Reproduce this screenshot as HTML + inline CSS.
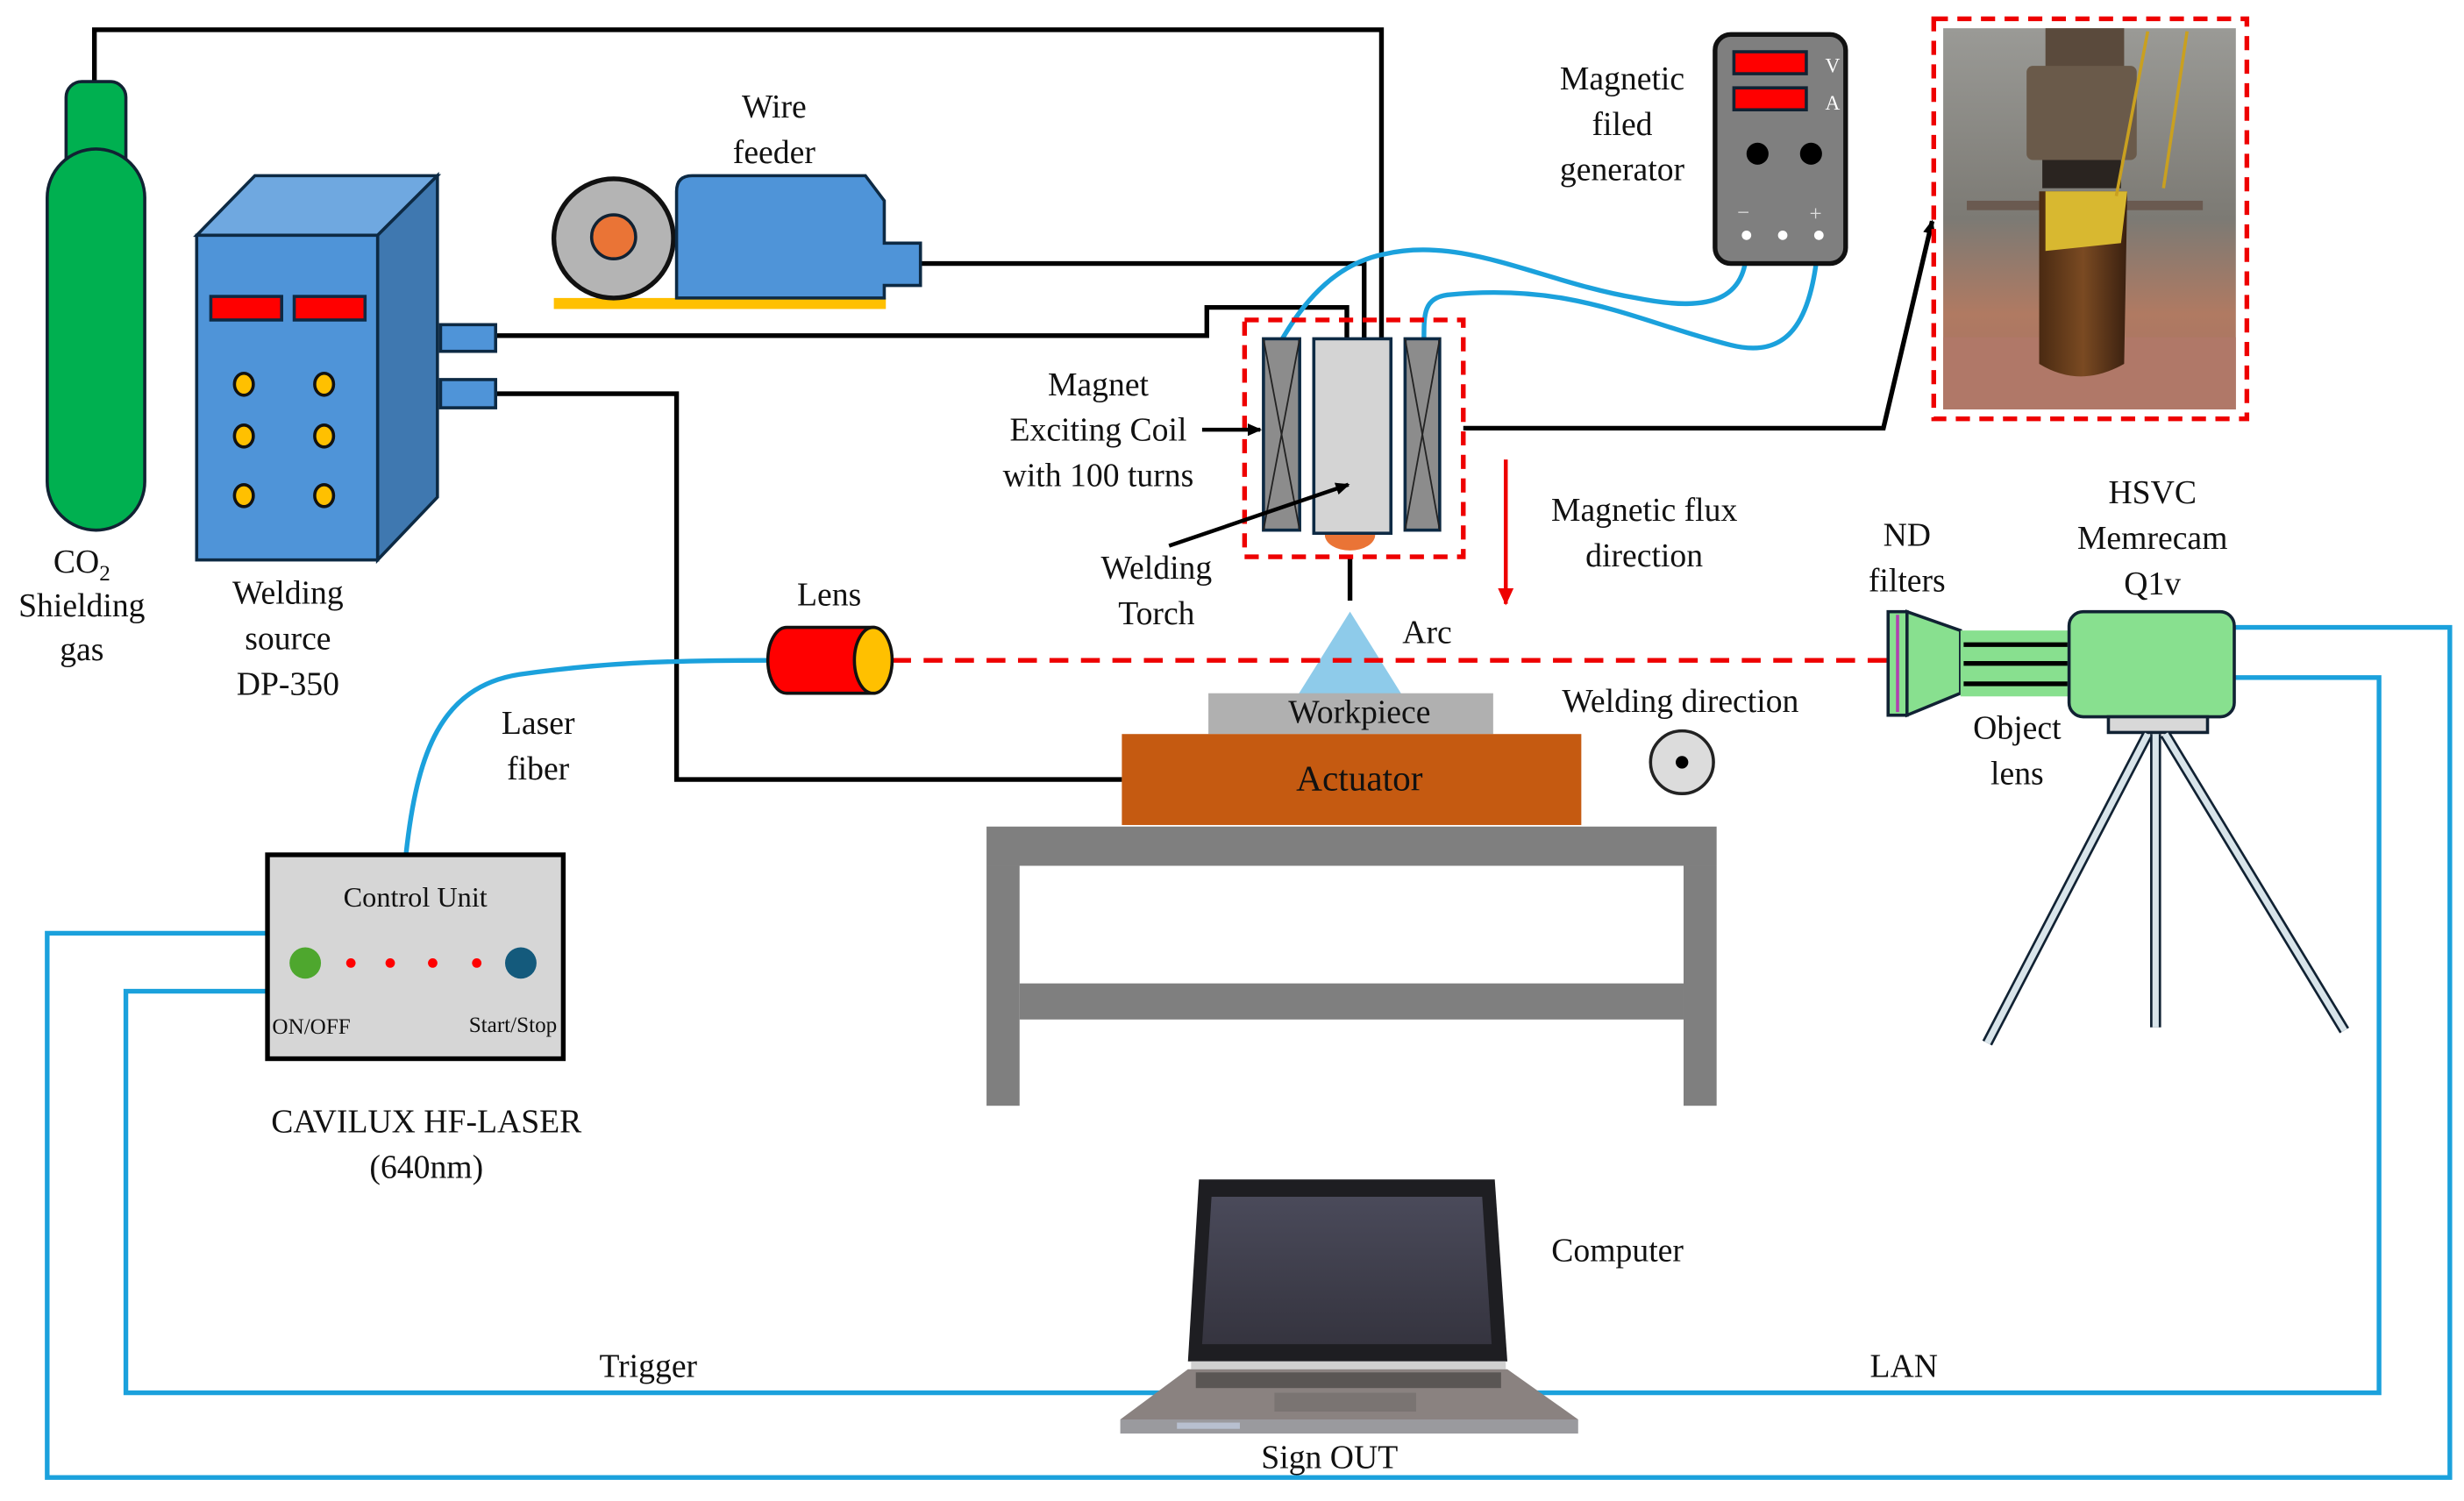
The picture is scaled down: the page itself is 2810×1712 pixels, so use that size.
<!DOCTYPE html>
<html><head><meta charset="utf-8"><style>
html,body{margin:0;padding:0;background:#fff;}
svg{display:block;}
svg text{font-family:"Liberation Serif","DejaVu Serif",serif !important;fill:#111;}
</style></head><body>
<svg width="2810" height="1712" viewBox="0 0 1566 957" preserveAspectRatio="none" xmlns="http://www.w3.org/2000/svg" font-family="'Liberation Serif', 'DejaVu Serif', serif">
<defs>
<marker id="ab" markerWidth="10" markerHeight="10" refX="8" refY="5" orient="auto" markerUnits="userSpaceOnUse"><path d="M0,1 L9,5 L0,9 z" fill="#000"/></marker>
<marker id="ar" markerWidth="12" markerHeight="12" refX="10" refY="6" orient="auto" markerUnits="userSpaceOnUse"><path d="M0,1 L11,6 L0,11 z" fill="#e00"/></marker>
<linearGradient id="ph" x1="0" y1="0" x2="0" y2="1"><stop offset="0" stop-color="#9a9a96"/><stop offset="0.5" stop-color="#7c7a74"/><stop offset="0.75" stop-color="#b07a62"/><stop offset="1" stop-color="#a27060"/></linearGradient>
<linearGradient id="cyl" x1="0" y1="0" x2="1" y2="0"><stop offset="0" stop-color="#4a2a12"/><stop offset="0.5" stop-color="#7a4a22"/><stop offset="1" stop-color="#3a2010"/></linearGradient>
<linearGradient id="scr" x1="0" y1="0" x2="0" y2="1"><stop offset="0" stop-color="#4a4a5a"/><stop offset="1" stop-color="#35343f"/></linearGradient>
</defs>

<g fill="none" stroke="#000" stroke-width="3">
<polyline points="60,55 60,19 878,19 878,216"/>
<polyline points="315,214 767,214 767,196 856,196 856,216"/>
<polyline points="315,251 430,251 430,497 713,497"/>
<polyline points="585,168 867,168 867,216"/>
<polyline points="930,273 1197,273 1228,141" marker-end="url(#ab)"/>
<line x1="858" y1="355" x2="858" y2="383"/>
</g>

<g fill="none" stroke="#1ba1dc" stroke-width="3">
<path d="M1110,152 C1112,190 1090,200 1040,190 C980,180 930,150 880,162 C850,168 830,190 815,216"/>
<path d="M1156,152 C1152,200 1140,230 1100,220 C1040,205 1000,180 920,188 C905,190 905,200 905,216"/>
<path d="M488,421 C420,421 380,423 330,430 C280,438 265,480 258,545"/>
<polyline points="170,595 30,595 30,942 1557,942 1557,400 1420,400"/>
<polyline points="170,632 80,632 80,888 740,888"/>
<polyline points="975,888 1512,888 1512,432 1420,432"/>
</g>

<rect x="42" y="52" width="38" height="70" rx="10" fill="#00b050" stroke="#123" stroke-width="2"/>
<rect x="30" y="95" width="62" height="243" rx="31" fill="#00b050" stroke="#123" stroke-width="2"/>

<g stroke="#0d2a44" stroke-width="2">
<polygon points="125,150 162,112 278,112 240,150" fill="#6fa8e0"/>
<polygon points="240,150 278,112 278,317 240,357" fill="#3f78b0"/>
<rect x="125" y="150" width="115" height="207" fill="#4f94d8"/>
<rect x="134" y="189" width="45" height="15" fill="#f00"/>
<rect x="187" y="189" width="45" height="15" fill="#f00"/>
<rect x="280" y="207" width="35" height="17" fill="#4f94d8"/>
<rect x="280" y="242" width="35" height="18" fill="#4f94d8"/>
</g>
<g fill="#ffc000" stroke="#111" stroke-width="2">
<ellipse cx="155" cy="245" rx="6" ry="7"/><ellipse cx="206" cy="245" rx="6" ry="7"/>
<ellipse cx="155" cy="278" rx="6" ry="7"/><ellipse cx="206" cy="278" rx="6" ry="7"/>
<ellipse cx="155" cy="316" rx="6" ry="7"/><ellipse cx="206" cy="316" rx="6" ry="7"/>
</g>

<rect x="352" y="190" width="211" height="7" fill="#ffc000"/>
<circle cx="390" cy="152" r="38" fill="#b4b4b4" stroke="#111" stroke-width="3"/>
<circle cx="390" cy="151" r="14" fill="#ea7436" stroke="#123" stroke-width="2"/>
<path d="M430,190 L430,122 Q430,112 440,112 L550,112 L562,128 L562,155 L585,155 L585,182 L562,182 L562,190 Z" fill="#4f94d8" stroke="#0d2a44" stroke-width="2"/>

<rect x="791" y="204" width="139" height="151" fill="none" stroke="#e00" stroke-width="3" stroke-dasharray="9,6"/>
<g stroke="#0d2a44" stroke-width="2">
<rect x="803" y="216" width="23" height="122" fill="#8c8c8c"/>
<rect x="893" y="216" width="22" height="122" fill="#8c8c8c"/>
<rect x="835" y="216" width="49" height="124" fill="#d4d4d4"/>
</g>
<g stroke="#222" stroke-width="1">
<line x1="803" y1="216" x2="826" y2="338"/><line x1="826" y1="216" x2="803" y2="338"/>
<line x1="893" y1="216" x2="915" y2="338"/><line x1="915" y1="216" x2="893" y2="338"/>
</g>
<path d="M842,341 A16,10 0 0 0 874,341 Z" fill="#ea7436"/>
<g stroke="#000" stroke-width="2.5" fill="none">
<line x1="764" y1="274" x2="801" y2="274" marker-end="url(#ab)"/>
<line x1="743" y1="348" x2="857" y2="309" marker-end="url(#ab)"/>
</g>
<polygon points="858,390 825,443 891,443" fill="#8ecbea"/>
<line x1="957" y1="293" x2="957" y2="385" stroke="#e00" stroke-width="2.5" marker-end="url(#ar)"/>

<rect x="768" y="442" width="181" height="26" fill="#b0b0b0"/>
<rect x="713" y="468" width="292" height="58" fill="#c55a11"/>
<g fill="#7f7f7f">
<rect x="627" y="527" width="464" height="25"/>
<rect x="627" y="552" width="21" height="153"/>
<rect x="1070" y="552" width="21" height="153"/>
<rect x="648" y="627" width="422" height="23"/>
</g>

<line x1="567" y1="421" x2="1200" y2="421" stroke="#e00" stroke-width="3" stroke-dasharray="12,8"/>
<path d="M500,400 L555,400 L555,442 L500,442 A12,21 0 0 1 500,400 Z" fill="#f00" stroke="#111" stroke-width="2"/>
<ellipse cx="555" cy="421" rx="12" ry="21" fill="#ffc000" stroke="#111" stroke-width="2"/>

<rect x="170" y="545" width="188" height="130" fill="#d6d6d6" stroke="#000" stroke-width="3"/>
<circle cx="194" cy="614" r="10" fill="#4ea72e"/>
<circle cx="331" cy="614" r="10" fill="#145a7c"/>
<g fill="#f00"><circle cx="223" cy="614" r="3"/><circle cx="248" cy="614" r="3"/><circle cx="275" cy="614" r="3"/><circle cx="303" cy="614" r="3"/></g>

<rect x="1090" y="22" width="83" height="146" rx="10" fill="#7f7f7f" stroke="#111" stroke-width="3"/>
<rect x="1102" y="33" width="46" height="14" fill="#f00" stroke="#123" stroke-width="2"/>
<rect x="1102" y="56" width="46" height="14" fill="#f00" stroke="#123" stroke-width="2"/>
<circle cx="1117" cy="98" r="7" fill="#000"/><circle cx="1151" cy="98" r="7" fill="#000"/>
<g fill="#fff"><circle cx="1110" cy="150" r="3"/><circle cx="1133" cy="150" r="3"/><circle cx="1156" cy="150" r="3"/></g>
<text x="1160" y="46" font-size="13" style="fill:#fff">V</text>
<text x="1160" y="70" font-size="13" style="fill:#fff">A</text>
<text x="1104" y="140" font-size="14" style="fill:#ddd">−</text>
<text x="1150" y="141" font-size="14" style="fill:#ddd">+</text>

<rect x="1229" y="12" width="199" height="255" fill="none" stroke="#e00" stroke-width="3" stroke-dasharray="9,6"/>
<rect x="1235" y="18" width="186" height="243" fill="url(#ph)"/>
<rect x="1235" y="215" width="186" height="46" fill="#b07868"/>
<rect x="1300" y="18" width="50" height="30" fill="#5a4a3c"/>
<rect x="1288" y="42" width="70" height="60" rx="4" fill="#6a5a4a"/>
<rect x="1298" y="102" width="50" height="18" fill="#2a2420"/>
<rect x="1250" y="128" width="150" height="6" fill="#6a5a50"/>
<path d="M1296,122 L1352,122 L1350,232 Q1322,248 1296,232 Z" fill="url(#cyl)"/>
<path d="M1300,122 L1352,122 L1348,155 L1300,160 Z" fill="#d8b830"/>
<path d="M1390,20 L1375,120 M1365,20 L1345,125" stroke="#c9a020" stroke-width="2" fill="none"/>

<rect x="1200" y="390" width="12" height="66" fill="#88e08f" stroke="#123" stroke-width="2"/>
<line x1="1206" y1="392" x2="1206" y2="454" stroke="#b040b0" stroke-width="2"/>
<polygon points="1212,390 1246,402 1246,442 1212,456" fill="#88e08f" stroke="#123" stroke-width="2"/>
<rect x="1246" y="402" width="70" height="42" fill="#88e08f"/>
<g stroke="#000" stroke-width="3"><line x1="1248" y1="411" x2="1314" y2="411"/><line x1="1248" y1="423" x2="1314" y2="423"/><line x1="1248" y1="436" x2="1314" y2="436"/></g>
<rect x="1315" y="390" width="105" height="67" rx="9" fill="#88e08f" stroke="#123" stroke-width="2"/>
<rect x="1340" y="457" width="63" height="10" fill="#d8d8d8" stroke="#123" stroke-width="2"/>
<g stroke="#123" stroke-width="7"><line x1="1365" y1="468" x2="1263" y2="665"/><line x1="1376" y1="468" x2="1490" y2="657"/><line x1="1370" y1="468" x2="1370" y2="655"/></g>
<g stroke="#d8e4ea" stroke-width="4"><line x1="1365" y1="468" x2="1263" y2="665"/><line x1="1376" y1="468" x2="1490" y2="657"/><line x1="1370" y1="468" x2="1370" y2="655"/></g>

<circle cx="1069" cy="486" r="20" fill="#dcdcdc" stroke="#222" stroke-width="2"/>
<circle cx="1069" cy="486" r="4" fill="#000"/>

<polygon points="762,752 950,752 958,868 755,868" fill="#1e1e22"/>
<polygon points="770,763 942,763 948,857 764,857" fill="url(#scr)"/>
<rect x="757" y="868" width="200" height="5" fill="#d0d0d0"/>
<polygon points="755,873 958,873 1003,905 712,905" fill="#8a8280"/>
<rect x="760" y="875" width="194" height="10" fill="#5a5654"/>
<rect x="810" y="888" width="90" height="12" fill="#7a7472"/>
<rect x="712" y="905" width="291" height="9" fill="#9a9a9e"/>
<rect x="748" y="907" width="40" height="4" fill="#b8c0d0"/>

<g font-size="21" text-anchor="middle">
<text x="492" y="75">Wire</text><text x="492" y="104">feeder</text>
<text x="52" y="365">CO<tspan font-size="14" dy="5">2</tspan></text>
<text x="52" y="393">Shielding</text><text x="52" y="421">gas</text>
<text x="183" y="385">Welding</text><text x="183" y="414">source</text><text x="183" y="443">DP-350</text>
<text x="698" y="252">Magnet</text><text x="698" y="281">Exciting Coil</text><text x="698" y="310">with 100 turns</text>
<text x="735" y="369">Welding</text><text x="735" y="398">Torch</text>
<text x="527" y="386">Lens</text>
<text x="907" y="410">Arc</text>
<text x="1031" y="57">Magnetic</text><text x="1031" y="86">filed</text><text x="1031" y="115">generator</text>
<text x="1045" y="332">Magnetic flux</text><text x="1045" y="361">direction</text>
<text x="1212" y="348">ND</text><text x="1212" y="377">filters</text>
<text x="1368" y="321">HSVC</text><text x="1368" y="350">Memrecam</text><text x="1368" y="379">Q1v</text>
<text x="1068" y="454">Welding direction</text>
<text x="864" y="461">Workpiece</text>
<text x="864" y="504" font-size="23">Actuator</text>
<text x="1282" y="471">Object</text><text x="1282" y="500">lens</text>
<text x="342" y="468">Laser</text><text x="342" y="497">fiber</text>
<text x="264" y="578" font-size="18">Control Unit</text>
<text x="271" y="722">CAVILUX HF-LASER</text><text x="271" y="751">(640nm)</text>
<text x="1028" y="804">Computer</text>
<text x="412" y="878">Trigger</text>
<text x="1210" y="878">LAN</text>
<text x="845" y="936">Sign OUT</text>
</g>
<text x="173" y="659" font-size="14">ON/OFF</text>
<text x="354" y="658" font-size="14" text-anchor="end">Start/Stop</text>
</svg>
</body></html>
